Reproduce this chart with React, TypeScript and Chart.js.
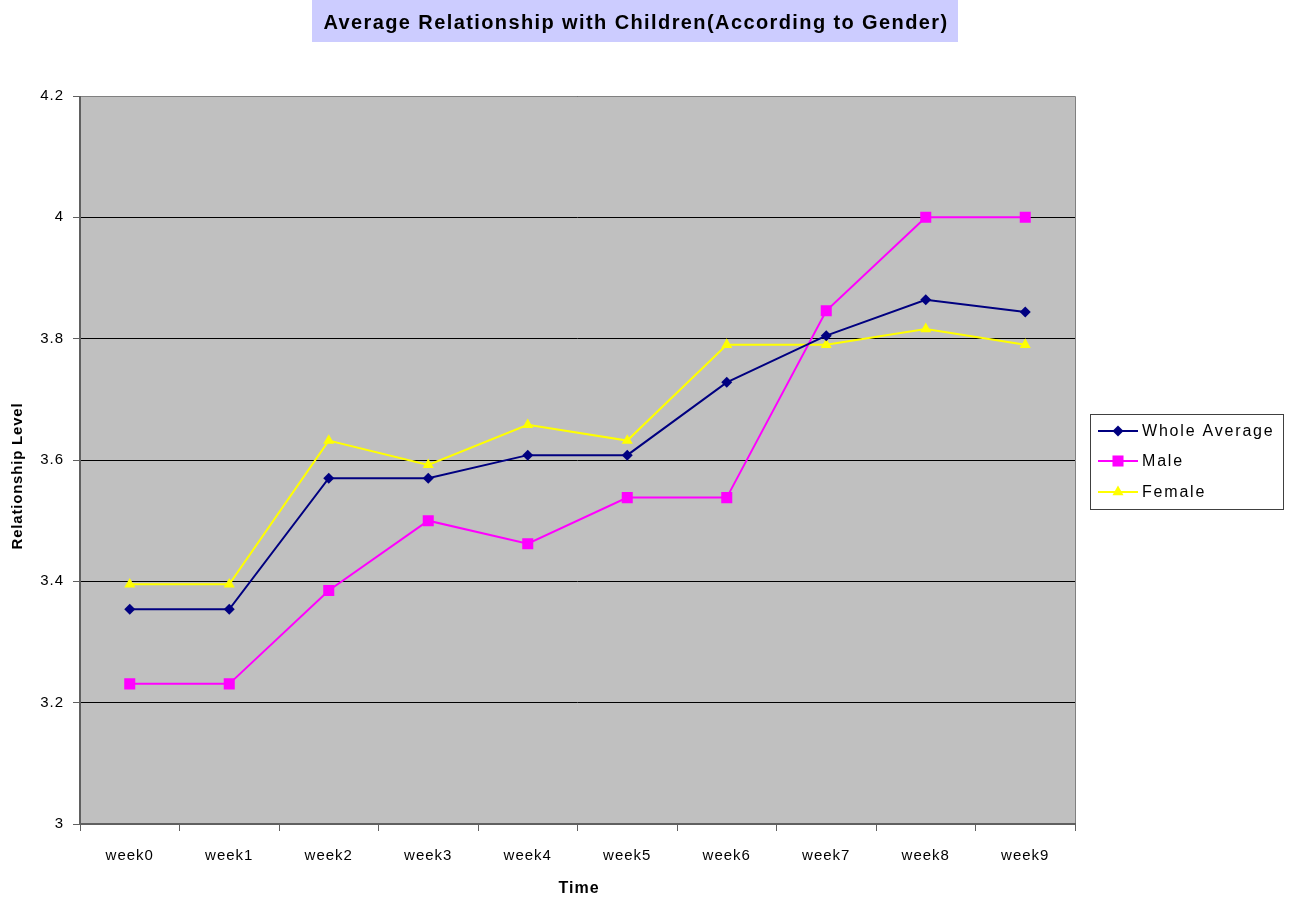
import React, { useEffect, useRef } from 'react';
import { Chart, registerables } from 'chart.js';

Chart.register(...registerables);

const titleText = 'Average Relationship with Children(According to Gender)';
const xTitle = 'Time';
const yTitle = 'Relationship Level';
const categories = ['week0', 'week1', 'week2', 'week3', 'week4', 'week5', 'week6', 'week7', 'week8', 'week9'];
const yTicks = [3, 3.2, 3.4, 3.6, 3.8, 4, 4.2];
const seriesNames = ['Whole Average', 'Male', 'Female'];
const wholeAverage = [3.354, 3.354, 3.57, 3.57, 3.608, 3.608, 3.728, 3.805, 3.864, 3.844];
const male = [3.231, 3.231, 3.385, 3.5, 3.462, 3.538, 3.538, 3.846, 4.0, 4.0];
const female = [3.395, 3.395, 3.632, 3.592, 3.658, 3.632, 3.79, 3.79, 3.816, 3.79];

const colors = ['#000080', '#FF00FF', '#FFFF00'];
const pointStyles = ['rectRot', 'rect', 'triangle'];
const pointRadii = [5.5, 7.8, 6.4];

const FONT = 'Arial, "Liberation Sans", sans-serif';

const decorPlugin = {
  id: 'decor',
  beforeDraw(chart: any) {
    const { ctx, chartArea } = chart;
    ctx.save();
    ctx.fillStyle = '#ffffff';
    ctx.fillRect(0, 0, chart.width, chart.height);
    ctx.fillStyle = '#C0C0C0';
    ctx.fillRect(chartArea.left, chartArea.top, chartArea.right - chartArea.left, chartArea.bottom - chartArea.top);
    ctx.restore();
    (ctx as any).letterSpacing = '1px';
  },
  afterDatasetsDraw(chart: any) {
    const { ctx, chartArea } = chart;
    ctx.save();
    ctx.strokeStyle = '#808080';
    ctx.lineWidth = 1;
    ctx.beginPath();
    ctx.moveTo(chartArea.left, chartArea.top + 0.5);
    ctx.lineTo(chartArea.right + 0.5, chartArea.top + 0.5);
    ctx.lineTo(chartArea.right + 0.5, chartArea.bottom);
    ctx.stroke();
    ctx.strokeStyle = '#606060';
    ctx.lineWidth = 2;
    ctx.beginPath();
    ctx.moveTo(chartArea.left, chartArea.top);
    ctx.lineTo(chartArea.left, chartArea.bottom);
    ctx.lineTo(chartArea.right + 1, chartArea.bottom);
    ctx.stroke();
    ctx.restore();
  },
  afterDraw(chart: any) {
    const { ctx } = chart;
    ctx.save();
    // title box
    ctx.fillStyle = '#CCCCFF';
    ctx.fillRect(312, 0, 646, 42);
    ctx.fillStyle = '#000000';
    (ctx as any).letterSpacing = '1.4px';
    ctx.font = `bold 20px ${FONT}`;
    ctx.textAlign = 'center';
    ctx.textBaseline = 'middle';
    ctx.fillText(titleText, 636, 23);

    // axis titles
    (ctx as any).letterSpacing = '1px';
    ctx.font = `bold 16px ${FONT}`;
    ctx.fillText(xTitle, 579, 889);
    ctx.save();
    ctx.translate(18, 476);
    ctx.rotate(-Math.PI / 2);
    (ctx as any).letterSpacing = '0.8px';
    ctx.font = `bold 15px ${FONT}`;
    ctx.fillText(yTitle, 0, 0);
    ctx.restore();

    // legend
    ctx.fillStyle = '#ffffff';
    ctx.fillRect(1090, 414, 193, 95);
    ctx.strokeStyle = '#404040';
    ctx.lineWidth = 1;
    ctx.strokeRect(1090.5, 414.5, 193, 95);
    const rows = [431, 461, 492];
    chart.data.datasets.forEach((ds: any, i: number) => {
      const y = rows[i];
      ctx.strokeStyle = ds.borderColor;
      ctx.lineWidth = 2;
      ctx.beginPath();
      ctx.moveTo(1098, y);
      ctx.lineTo(1138, y);
      ctx.stroke();
      ctx.fillStyle = ds.pointBackgroundColor;
      const r = ds.pointRadius;
      if (ds.pointStyle === 'rectRot') {
        ctx.beginPath();
        ctx.moveTo(1118, y - r);
        ctx.lineTo(1118 + r, y);
        ctx.lineTo(1118, y + r);
        ctx.lineTo(1118 - r, y);
        ctx.closePath();
        ctx.fill();
      } else if (ds.pointStyle === 'rect') {
        const s = r * Math.SQRT1_2;
        ctx.fillRect(1118 - s, y - s, 2 * s, 2 * s);
      } else {
        ctx.beginPath();
        ctx.moveTo(1118, y - r);
        ctx.lineTo(1118 + r * 0.866, y + r * 0.5);
        ctx.lineTo(1118 - r * 0.866, y + r * 0.5);
        ctx.closePath();
        ctx.fill();
      }
      ctx.fillStyle = '#000000';
      (ctx as any).letterSpacing = '1.8px';
      ctx.font = `16px ${FONT}`;
      ctx.textAlign = 'left';
      ctx.textBaseline = 'middle';
      ctx.fillText(ds.label, 1142, y + 1);
    });
    ctx.restore();
  },
};

export default function App() {
  const ref = useRef<HTMLCanvasElement | null>(null);
  useEffect(() => {
    if (!ref.current) return;
    const seriesData = [wholeAverage, male, female];
    const chart = new Chart(ref.current, {
      type: 'line',
      data: {
        labels: categories,
        datasets: seriesData.map((d, i) => ({
          label: seriesNames[i],
          data: d,
          borderColor: colors[i],
          backgroundColor: colors[i],
          pointBackgroundColor: colors[i],
          pointBorderColor: colors[i],
          pointStyle: pointStyles[i] as any,
          pointRadius: pointRadii[i],
          pointBorderWidth: 0,
          borderWidth: 2,
          tension: 0,
          fill: false,
        })),
      },
      options: {
        animation: false,
        responsive: false,
        maintainAspectRatio: false,
        layout: { padding: { top: 96, right: 218, bottom: 0, left: 0 } },
        plugins: {
          legend: { display: false },
          title: { display: false },
          tooltip: { enabled: false },
        },
        scales: {
          x: {
            type: 'category',
            offset: true,
            afterFit: (scale: any) => {
              scale.height = 77;
            },
            grid: {
              offset: true,
              drawOnChartArea: false,
              drawTicks: true,
              tickLength: 7,
              tickColor: '#606060',
              tickWidth: 1,
            },
            border: { display: false },
            ticks: {
              color: '#000000',
              font: { family: FONT, size: 15 },
              padding: 16,
              maxRotation: 0,
              autoSkip: false,
            },
          },
          y: {
            type: 'linear',
            min: 3,
            max: 4.2,
            afterFit: (scale: any) => {
              scale.width = 80;
            },
            afterBuildTicks: (scale: any) => {
              scale.ticks = yTicks.map((v) => ({ value: v }));
            },
            grid: {
              color: '#000000',
              lineWidth: 1,
              drawTicks: true,
              tickLength: 7,
              tickColor: '#606060',
            },
            border: { display: false },
            ticks: {
              color: '#000000',
              font: { family: FONT, size: 15 },
              padding: 9,
              callback: (v: any) => String(Number(Number(v).toFixed(1))),
            },
          },
        },
      },
      plugins: [decorPlugin],
    });
    return () => chart.destroy();
  }, []);
  return (
    <canvas
      ref={ref}
      width={1293}
      height={901}
      style={{ position: 'absolute', left: 0, top: 0, width: '1293px', height: '901px', display: 'block' }}
    />
  );
}
